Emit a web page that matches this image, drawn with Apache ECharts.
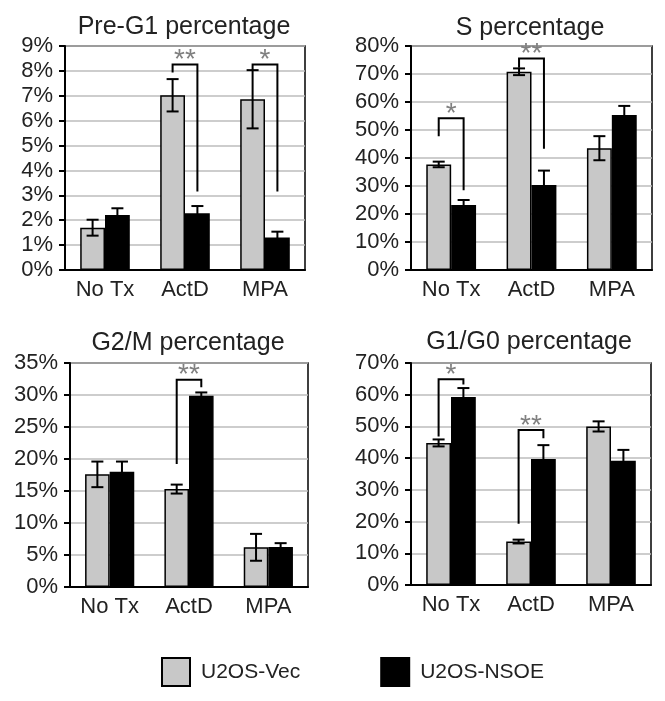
<!DOCTYPE html>
<html>
<head>
<meta charset="utf-8">
<script src="https://cdn.jsdelivr.net/npm/echarts@6/dist/echarts.min.js"></script>
<style>
html,body{margin:0;padding:0;background:#fff;}
#c{width:665px;height:701px;}
</style>
</head>
<body>
<div id="c"></div>
<script>
// ---- data ----
const categories = ['No Tx', 'ActD', 'MPA'];
const seriesNames = ['U2OS-Vec', 'U2OS-NSOE'];
const titles = ['Pre-G1 percentage', 'S percentage', 'G2/M percentage', 'G1/G0 percentage'];
const yMax = [9, 80, 35, 70];
const yInterval = [1, 10, 5, 10];

// means (%) and error half-widths (%)
const preG1Vec = [1.7, 7.02, 6.86];
const preG1VecErr = [0.32, 0.65, 1.17];
const preG1Nsoe = [2.21, 2.28, 1.31];
const preG1NsoeErr = [0.27, 0.29, 0.23];

const sVec = [37.7, 70.8, 43.5];
const sVecErr = [1.0, 1.2, 4.3];
const sNsoe = [23.2, 30.4, 55.4];
const sNsoeErr = [1.8, 5.1, 3.2];

const g2mVec = [17.6, 15.3, 6.2];
const g2mVecErr = [2.0, 0.7, 2.1];
const g2mNsoe = [18.0, 29.9, 6.25];
const g2mNsoeErr = [1.6, 0.5, 0.6];

const g1g0Vec = [44.8, 13.7, 50.0];
const g1g0VecErr = [1.1, 0.6, 1.6];
const g1g0Nsoe = [59.3, 39.7, 39.2];
const g1g0NsoeErr = [2.8, 4.4, 3.4];

// significance brackets: [category index, left bottom, top, right bottom, label]
const preG1Brackets = [[1, 7.94, 8.26, 3.15, '**'], [2, 8.03, 8.26, 3.15, '*']];
const sBrackets = [[0, 47.8, 54.2, 28.5, '*'], [1, 72.2, 75.5, 43.3, '**']];
const g2mBrackets = [[1, 19.2, 32.4, 31.2, '**']];
const g1g0Brackets = [[0, 46.8, 64.9, 63.2, '*'], [1, 19.3, 48.9, 46.3, '**']];

const panels = [
  {vec: preG1Vec, vecErr: preG1VecErr, nsoe: preG1Nsoe, nsoeErr: preG1NsoeErr, br: preG1Brackets},
  {vec: sVec, vecErr: sVecErr, nsoe: sNsoe, nsoeErr: sNsoeErr, br: sBrackets},
  {vec: g2mVec, vecErr: g2mVecErr, nsoe: g2mNsoe, nsoeErr: g2mNsoeErr, br: g2mBrackets},
  {vec: g1g0Vec, vecErr: g1g0VecErr, nsoe: g1g0Nsoe, nsoeErr: g1g0NsoeErr, br: g1g0Brackets}
];

// ---- layout / style ----
const FONT = 'Liberation Sans, Arial, sans-serif';
const grids = [
  {left: 65, top: 46, width: 240, height: 224},
  {left: 411, top: 46, width: 241, height: 224},
  {left: 70, top: 363, width: 238, height: 224},
  {left: 411, top: 363, width: 240, height: 222}
];
// title centre x (minus default padding 5), top
const titlePos = [[179, 10], [525, 11], [183, 326], [524, 325]];
const BARW = 0.31;

function errRender(side) {
  return function (params, api) {
    const x = api.value(0), m = api.value(1), e = api.value(2);
    const band = api.size([1, 0])[0];
    const off = side * band * BARW / 2;
    const lo = api.coord([x, m - e]);
    const hi = api.coord([x, m + e]);
    const cx = lo[0] + off;
    const cap = 6;
    const st = {stroke: '#000', lineWidth: 2};
    return {
      type: 'group',
      children: [
        {type: 'line', shape: {x1: cx, y1: lo[1], x2: cx, y2: hi[1]}, style: st},
        {type: 'line', shape: {x1: cx - cap, y1: lo[1], x2: cx + cap, y2: lo[1]}, style: st},
        {type: 'line', shape: {x1: cx - cap, y1: hi[1], x2: cx + cap, y2: hi[1]}, style: st}
      ]
    };
  };
}

function bracketRender(labels) {
  return function (params, api) {
    const x = api.value(0);
    const band = api.size([1, 0])[0];
    const off = band * BARW / 2;
    const lb = api.coord([x, api.value(1)]);
    const tp = api.coord([x, api.value(2)]);
    const rb = api.coord([x, api.value(3)]);
    const xl = lb[0] - off, xr = lb[0] + off;
    return {
      type: 'group',
      children: [
        {type: 'polyline', shape: {points: [[xl, lb[1]], [xl, tp[1]], [xr, tp[1]], [xr, rb[1]]]},
         style: {stroke: '#000', lineWidth: 2, fill: null}},
        {type: 'text', style: {text: labels[params.dataIndex], x: lb[0], y: tp[1] - 4,
          textAlign: 'center', textVerticalAlign: 'middle', fill: '#808080',
          font: '28px ' + FONT}}
      ]
    };
  };
}

const option = {
  backgroundColor: '#fff',
  animation: false,
  textStyle: {fontFamily: FONT},
  title: titles.map((t, i) => ({
    text: t, left: titlePos[i][0], top: titlePos[i][1], textAlign: 'center',
    textStyle: {fontSize: 25, fontWeight: 'normal', color: '#222', fontFamily: FONT}
  })),
  legend: {
    data: seriesNames, left: 156, top: 652, itemWidth: 28, itemHeight: 28, itemGap: 80,
    icon: 'rect',
    textStyle: {fontSize: 21, color: '#222', fontFamily: FONT, padding: [0, 0, 0, 6]}
  },
  grid: grids.map(g => Object.assign({show: true, borderColor: '#000', borderWidth: 1.5,
    backgroundColor: 'transparent'}, g)),
  xAxis: grids.map((g, i) => ({
    type: 'category', gridIndex: i, data: categories,
    axisLine: {lineStyle: {color: '#000', width: 2}},
    axisTick: {show: false},
    axisLabel: {fontSize: 22, color: '#222', margin: 9, fontFamily: FONT}
  })),
  yAxis: grids.map((g, i) => ({
    type: 'value', gridIndex: i, min: 0, max: yMax[i], interval: yInterval[i],
    axisLine: {show: true, lineStyle: {color: '#000', width: 2}},
    axisTick: {show: true, length: 6, lineStyle: {color: '#000', width: 2}},
    axisLabel: {fontSize: 22, color: '#222', margin: 12, fontFamily: FONT, formatter: '{value}%'},
    splitLine: {show: true, lineStyle: {color: '#bdbdbd', width: 1.5}}
  })),
  series: []
};

panels.forEach((p, i) => {
  option.series.push({
    type: 'bar', name: seriesNames[0], xAxisIndex: i, yAxisIndex: i, data: p.vec,
    barWidth: (BARW * 100) + '%', barGap: '0%',
    itemStyle: {color: '#c8c8c8', borderColor: '#000', borderWidth: 1.5}
  });
  option.series.push({
    type: 'bar', name: seriesNames[1], xAxisIndex: i, yAxisIndex: i, data: p.nsoe,
    barWidth: (BARW * 100) + '%', barGap: '0%',
    itemStyle: {color: '#000', borderColor: '#000', borderWidth: 1.5}
  });
  option.series.push({
    type: 'custom', xAxisIndex: i, yAxisIndex: i, z: 10, silent: true,
    renderItem: errRender(-1),
    data: p.vec.map((v, k) => [k, v, p.vecErr[k]])
  });
  option.series.push({
    type: 'custom', xAxisIndex: i, yAxisIndex: i, z: 10, silent: true,
    renderItem: errRender(1),
    data: p.nsoe.map((v, k) => [k, v, p.nsoeErr[k]])
  });
  option.series.push({
    type: 'custom', xAxisIndex: i, yAxisIndex: i, z: 11, silent: true,
    renderItem: bracketRender(p.br.map(b => b[4])),
    data: p.br.map(b => [b[0], b[1], b[2], b[3]])
  });
});

const chart = echarts.init(document.getElementById('c'), null, {renderer: 'canvas'});
chart.setOption(option);
</script>
</body>
</html>
